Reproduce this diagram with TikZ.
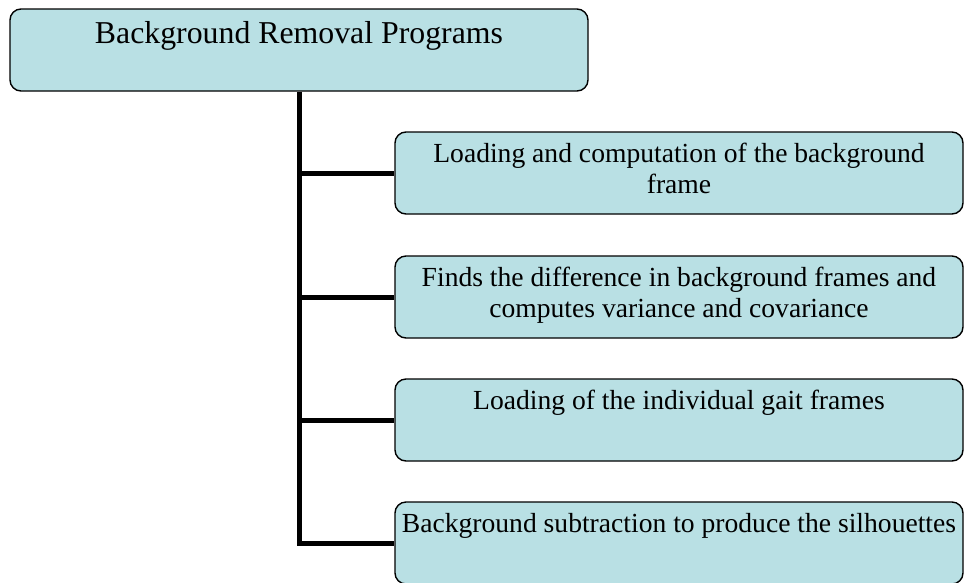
\documentclass[tikz,border=0pt]{standalone}
\usepackage{fontspec}
\setmainfont{Liberation Serif}
\usetikzlibrary{positioning}

\definecolor{boxfill}{RGB}{185,224,228}

\begin{document}
\begin{tikzpicture}[x=1pt, y=-1pt,
    box/.style={draw=black, line width=1.4pt, fill=boxfill, rounded corners=11pt,
        minimum width=#1, minimum height=82pt, inner sep=0pt},
    boxtext/.style={inner sep=0pt, align=center, font=\fontsize{27.6}{31}\selectfont},
    link/.style={line width=5pt}]
    \useasboundingbox (0,0) rectangle (964,582);

    % main box
    \node[box=578pt] (root) at (299,50) {};
    \node[below=13pt of root.north, inner sep=0pt, font=\fontsize{31.8}{36}\selectfont] (roottext) {Background Removal Programs};

    % program steps
    \node[box=568pt] (c1) at (679,173) {};
    \node[box=568pt] (c2) at (679,297) {};
    \node[box=568pt] (c3) at (679,420) {};
    \node[box=568pt] (c4) at (679,543) {};

    \node[below=12pt of c1.north, boxtext] (c1text) {Loading and computation of the background\\frame};
    \node[below=12pt of c2.north, boxtext] (c2text) {Finds the difference in background frames and\\computes variance and covariance};
    \node[below=12pt of c3.north, boxtext] (c3text) {Loading of the individual gait frames};
    \node[below=12pt of c4.north, boxtext] (c4text) {Background subtraction to produce the silhouettes};

    % tree lines
    \draw[link] (root.south) |- (c4.west);
    \draw[link] (root.south |- c1.west) -- (c1.west);
    \draw[link] (root.south |- c2.west) -- (c2.west);
    \draw[link] (root.south |- c3.west) -- (c3.west);
\end{tikzpicture}
\end{document}
